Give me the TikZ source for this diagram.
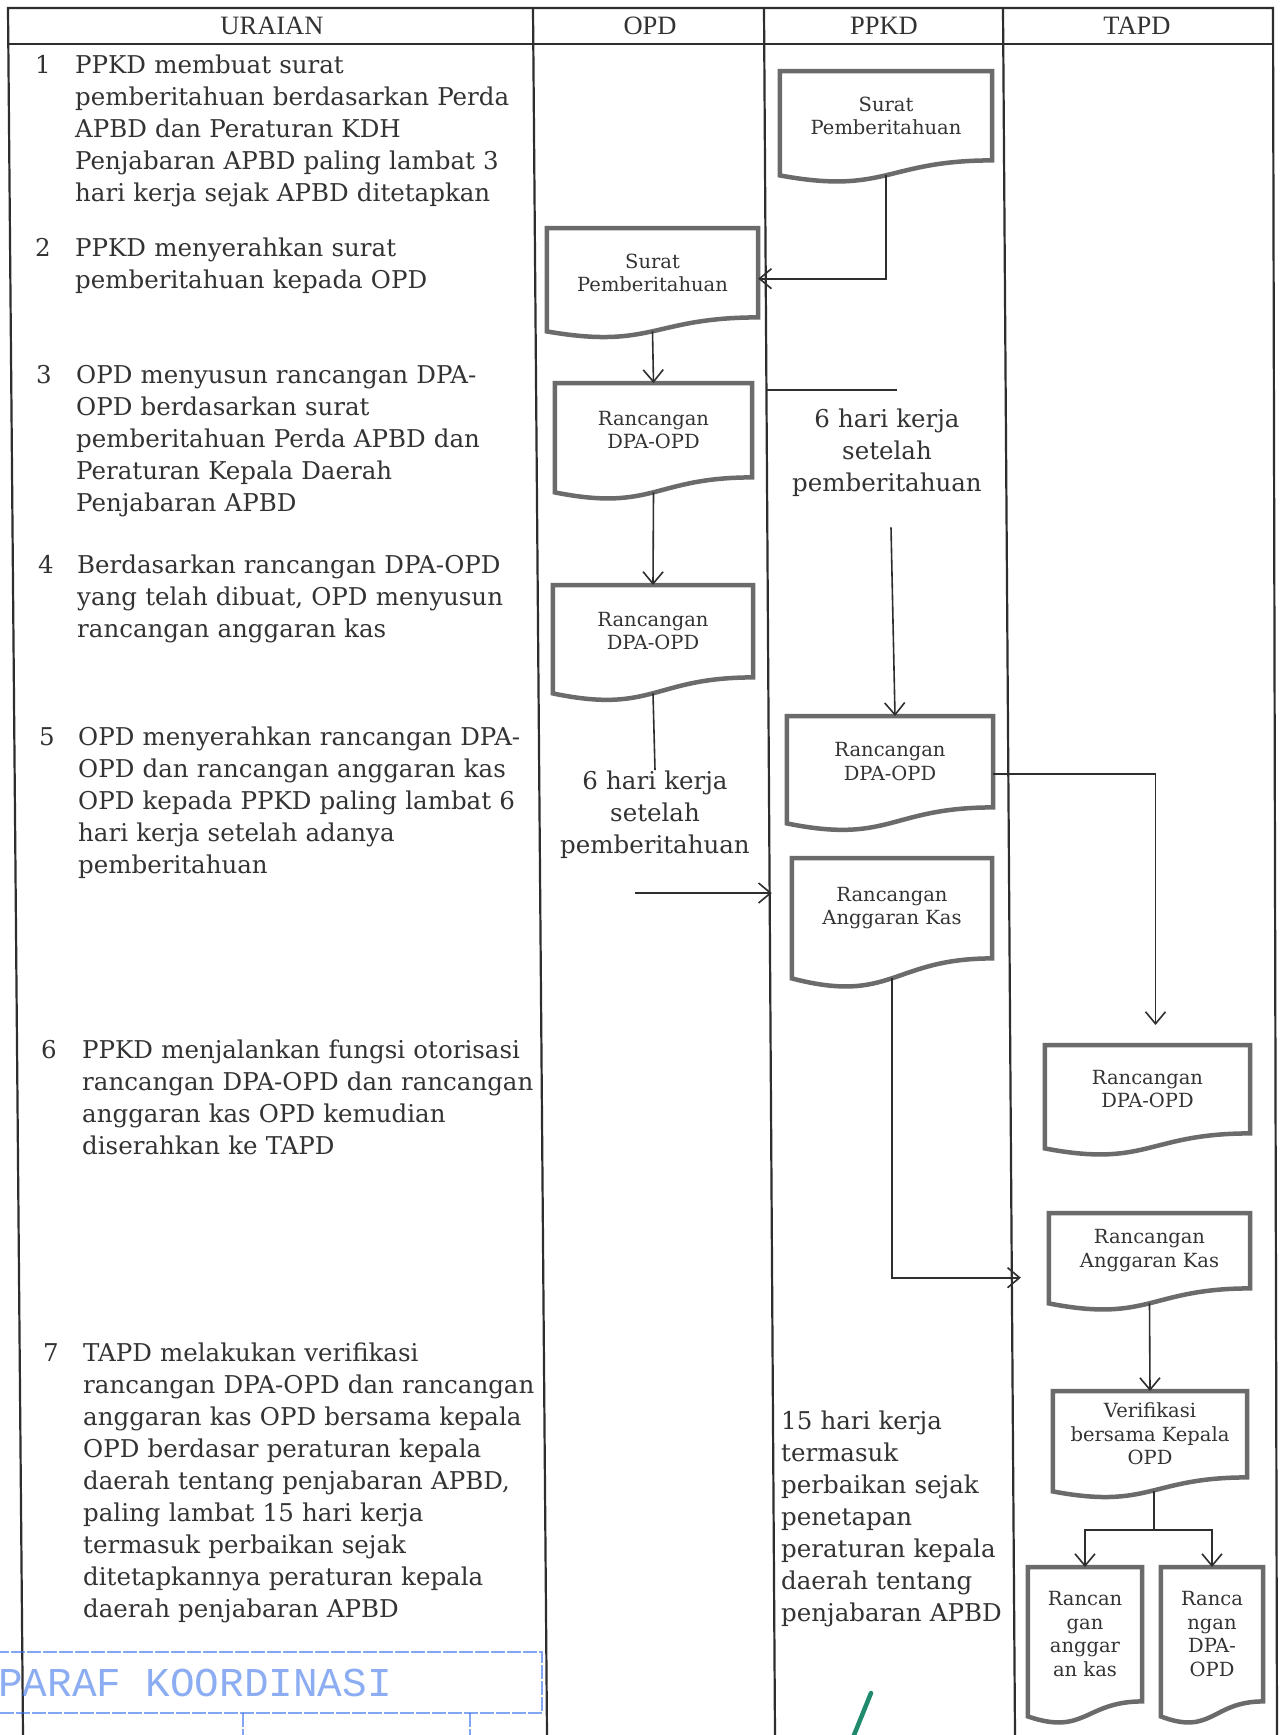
\documentclass[tikz,border=0pt]{standalone}
\usepackage{fontspec}
\setmainfont{DejaVu Serif}
\newfontfamily\hdrfont{Liberation Serif}
\newfontfamily\stampfont{Liberation Mono}
\usetikzlibrary{arrows.meta,calc}
\definecolor{ink}{HTML}{333333}
\definecolor{rule}{HTML}{2E2E2E}
\definecolor{boxgray}{HTML}{6B6B6B}
\definecolor{stampblue}{HTML}{2F6BE8}
\definecolor{pengreen}{HTML}{1F8A6E}
\newcommand\mybody{\fontsize{24.5}{32}\selectfont}
\newcommand\myboxf{\fontsize{19.5}{23.5}\selectfont}
\newcommand\myhdr{\hdrfont\fontsize{26.5}{30}\selectfont}
\tikzset{
  tbl/.style={draw=rule, line width=2.2pt},
  conn/.style={draw=rule, line width=1.6pt},
  arr/.style={conn, -{Straight Barb[length=12pt,width=20pt,line width=1.6pt]}},
  docn/.style={inner sep=0pt, align=center, font=\myboxf, text=ink},
  docl/.style={draw=boxgray, line width=4.5pt, line join=miter},
  hdr/.style={anchor=base, inner sep=0pt, font=\myhdr, text=ink},
  num/.style={anchor=base west, inner sep=0pt, font=\mybody, text=ink},
  rowtxt/.style={anchor=base west, inner sep=0pt, text width=500pt, align=left, font=\mybody, text=ink},
  notec/.style={anchor=base, inner sep=0pt, text width=230pt, align=center, font=\mybody, text=ink},
  stampl/.style={draw=stampblue, line width=2.4pt, opacity=0.6, dash pattern=on 14pt off 2pt},
  stampt/.style={anchor=base west, inner sep=0pt, font=\stampfont\fontsize{41}{44}\selectfont, text=stampblue, opacity=0.55},
  pen/.style={draw=pengreen, line width=4.5pt, line cap=round}
}
% name, cx, top, width, rect height, wave drop, text
\newcommand\docbox[7]{%
  \node[docn, minimum width=#4pt, minimum height=#5pt, anchor=north] (#1) at (#2,#3) {#7};
  \draw[docl] ([yshift=-#6pt]#1.south west) -- (#1.north west) -- (#1.north east) -- (#1.south east)
     .. controls (#1.south) and ([yshift={-2.31*#6pt}]#1.south) .. ([yshift=-#6pt]#1.south west) -- cycle;
}
\begin{document}
\begin{tikzpicture}[x=1pt,y=-1pt]
\useasboundingbox[fill=white] (0,0) rectangle (1280,1735);

% table
\draw[tbl] (23,1735) -- (8,8) -- (1273,8) -- (1277,1735);
\draw[tbl] (8,44) -- (1273,44);
\draw[tbl] (533,8) -- (547,1735);
\draw[tbl] (764,8) -- (775,1735);
\draw[tbl] (1003,8) -- (1015,1735);

% headers
\node[hdr] (hU) at (272,34) {URAIAN};
\node[hdr] (hO) at (650,34) {OPD};
\node[hdr] (hP) at (884,34) {PPKD};
\node[hdr] (hT) at (1137,34) {TAPD};

% rows
\node[num] (n1) at (35,73) {1};
\node[rowtxt] (t1) at (75,73) {PPKD membuat surat\\pemberitahuan berdasarkan Perda\\APBD dan Peraturan KDH\\Penjabaran APBD paling lambat 3\\hari kerja sejak APBD ditetapkan};
\node[num] (n2) at (35,256) {2};
\node[rowtxt] (t2) at (75,256) {PPKD menyerahkan surat\\pemberitahuan kepada OPD};
\node[num] (n3) at (36,383) {3};
\node[rowtxt] (t3) at (76,383) {OPD menyusun rancangan DPA-\\OPD berdasarkan surat\\pemberitahuan Perda APBD dan\\Peraturan Kepala Daerah\\Penjabaran APBD};
\node[num] (n4) at (38,573) {4};
\node[rowtxt] (t4) at (77,573) {Berdasarkan rancangan DPA-OPD\\yang telah dibuat, OPD menyusun\\rancangan anggaran kas};
\node[num] (n5) at (39,745) {5};
\node[rowtxt] (t5) at (78,745) {OPD menyerahkan rancangan DPA-\\OPD dan rancangan anggaran kas\\OPD kepada PPKD paling lambat 6\\hari kerja setelah adanya\\pemberitahuan};
\node[num] (n6) at (41,1058) {6};
\node[rowtxt] (t6) at (82,1058) {PPKD menjalankan fungsi otorisasi\\rancangan DPA-OPD dan rancangan\\anggaran kas OPD kemudian\\diserahkan ke TAPD};
\node[num] (n7) at (43,1361) {7};
\node[rowtxt] (t7) at (83,1361) {TAPD melakukan verifikasi\\rancangan DPA-OPD dan rancangan\\anggaran kas OPD bersama kepala\\OPD berdasar peraturan kepala\\daerah tentang penjabaran APBD,\\paling lambat 15 hari kerja\\termasuk perbaikan sejak\\ditetapkannya peraturan kepala\\daerah penjabaran APBD};

% document boxes
\docbox{b1}{886}{71}{212}{89}{15}{Surat\\Pemberitahuan}
\docbox{b2}{652.5}{228}{211}{89}{14}{Surat\\Pemberitahuan}
\docbox{b3}{653.5}{383}{197}{94}{15}{Rancangan\\DPA-OPD}
\docbox{b4}{653}{585}{200}{92}{16}{Rancangan\\DPA-OPD}
\docbox{b5}{890}{716}{206}{91}{16}{Rancangan\\DPA-OPD}
\docbox{b6}{892}{858}{200}{100}{20}{Rancangan\\Anggaran Kas}
\docbox{b7}{1147.5}{1045}{205}{88}{15}{Rancangan\\DPA-OPD}
\docbox{b8}{1149.5}{1213}{201}{75}{15}{Rancangan\\Anggaran Kas}
\docbox{b9}{1150}{1391}{194}{86}{14}{Verifikasi\\bersama Kepala\\OPD}
\docbox{b10}{1085}{1567}{114}{134}{15}{Rancan\\gan\\anggar\\an kas}
\docbox{b11}{1212}{1567}{102}{134}{15}{Ranca\\ngan\\DPA-\\OPD}

% notes
\node[notec] (np) at (887,427) {6 hari kerja\\setelah\\pemberitahuan};
\node[notec] (no) at (655,789) {6 hari kerja\\setelah\\pemberitahuan};
\node[rowtxt, text width=232pt] (n15) at (781,1429) {15 hari kerja\\termasuk\\perbaikan sejak\\penetapan\\peraturan kepala\\daerah tentang\\penjabaran APBD};

% connectors
\draw[arr] ([yshift=-15pt]b1.south) |- ([yshift=-6pt]b2.east);
\draw[arr] ([yshift=-14pt]b2.south) -- (b3.north);
\draw[arr] ([yshift=-15pt]b3.south) -- (b4.north);
\draw[conn] ([yshift=-16pt]b4.south) -- (no.north);
\coordinate (h1s) at (767,390);
\coordinate (h1e) at (897,390);
\draw[conn] (h1s) -- (h1e);
\draw[arr] ([xshift=4pt,yshift=-31pt]np.south) -- ([xshift=5pt]b5.north);
\coordinate (a7s) at (635,893);
\draw[arr, shorten >=20pt] (a7s) -- (a7s -| b6.west);
\draw[arr, shorten >=20pt] ([yshift=-12pt]b5.east) -| ([xshift=8pt]b7.north);
\draw[arr, shorten >=28pt] ([yshift=-20pt]b6.south) |- ([yshift=-27pt]b8.west);
\draw[arr] ([yshift=-15pt]b8.south) -- (b9.north);
\coordinate (fk) at (1154,1530);
\draw[conn] ([xshift=4pt,yshift=-14pt]b9.south) -- (fk);
\draw[arr] (fk) -| (b10.north);
\draw[arr] (fk) -| (b11.north);

% stamp and pen mark
\draw[stampl] (-5,1652) -- (542,1652) -- (542,1713) -- (-5,1713);
\draw[stampl] (243,1713) -- (243,1745);
\draw[stampl] (470,1713) -- (470,1745);
\node[stampt] (st) at (-2,1696) {PARAF KOORDINASI};
\draw[pen] (871,1693) -- (850,1745);
\end{tikzpicture}
\end{document}
